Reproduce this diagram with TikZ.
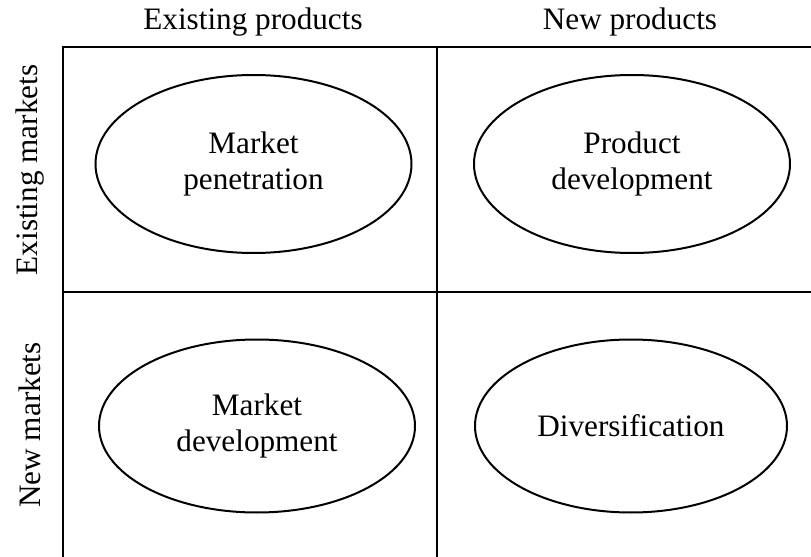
\documentclass[tikz,border=0pt]{standalone}
\usepackage{fontspec}
\setmainfont{Liberation Serif}
\usetikzlibrary{shapes.geometric}

\tikzset{
  strategy/.style={draw, ellipse, line width=1pt, align=center,
    minimum width=158pt, minimum height=88pt, inner sep=0pt},
  axis label/.style={font=\fontsize{15.6}{18}\selectfont}
}

\begin{document}
\begin{tikzpicture}[x=0.5pt, y=-0.5pt, line width=1pt,
    font=\fontsize{15.6}{18}\selectfont]
  \useasboundingbox (0, 0) rectangle (811, 557);
  \clip (0, 0) rectangle (811, 557);

  % grid of the matrix, open to the right and below
  \draw (63, 600) -- (63, 47) -- (860, 47);
  \draw (437, 47) -- (437, 600);
  \draw (63, 292) -- (860, 292);

  \node [axis label] (existprod) at (253, 22) {Existing products};
  \node [axis label] (newprod) at (630, 22) {New products};
  \node [axis label, rotate=90] (existmark) at (30, 170) {Existing markets};
  \node [axis label, rotate=90] (newmark) at (30, 425) {New markets};

  \node [strategy, minimum height=89pt] (mpen) at (253.5, 164) {Market\\penetration};
  \node [strategy, minimum height=89pt] (pdev) at (632, 164) {Product\\development};
  \node [strategy, minimum height=86.5pt] (mdev) at (257, 426) {Market\\development};
  \node [strategy, minimum height=86.5pt, minimum width=156pt] (div) at (631, 426) {Diversification};
\end{tikzpicture}
\end{document}
